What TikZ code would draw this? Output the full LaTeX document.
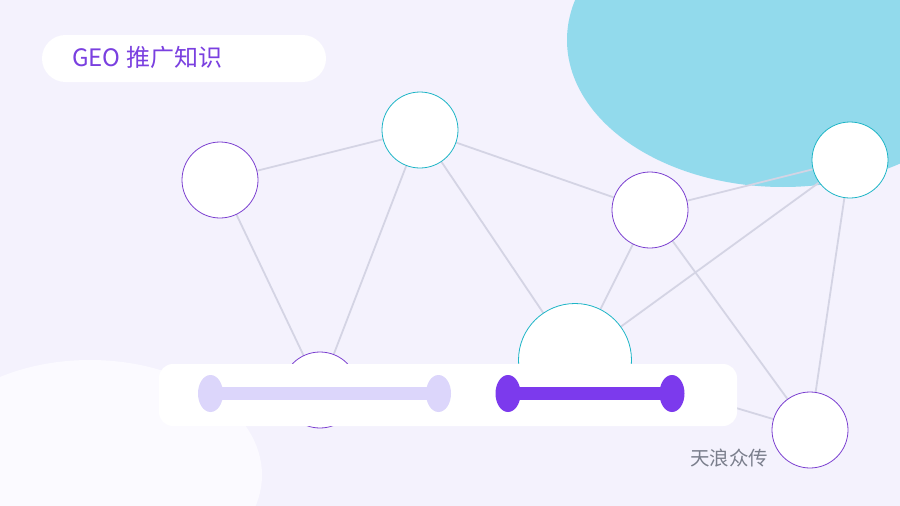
\documentclass[tikz,border=0pt]{standalone}
\usepackage{fontspec}
\newfontfamily\cjk{Noto Sans CJK SC}
\definecolor{bgc}{HTML}{F4F2FD}
\definecolor{blob}{HTML}{92DAEC}
\definecolor{blobw}{HTML}{FBFAFF}
\definecolor{edgec}{HTML}{D4D4E4}
\definecolor{purp}{HTML}{7B3FD0}
\definecolor{teal}{HTML}{1DB5C6}
\definecolor{titlec}{HTML}{7A40E0}
\definecolor{slidel}{HTML}{DCD6FB}
\definecolor{slided}{HTML}{7C3AED}
\definecolor{greyt}{HTML}{7A7E8C}
\pgfdeclarelayer{bg}
\pgfdeclarelayer{edges}
\pgfsetlayers{bg,edges,main}
\tikzset{
  pnode/.style={circle, draw=purp, fill=white, line width=0.8pt, minimum size=76pt, inner sep=0pt},
  tnode/.style={circle, draw=teal, fill=white, line width=0.8pt, minimum size=76pt, inner sep=0pt},
  edge/.style={draw=edgec, line width=1.8pt},
  knob/.style={ellipse, minimum width=25pt, minimum height=37pt, inner sep=0pt},
}
\usetikzlibrary{shapes.geometric}
\begin{document}
\begin{tikzpicture}[x=1pt,y=-1pt]
\useasboundingbox (0,0) rectangle (900,506);
\begin{pgfonlayer}{bg}
\clip (0,0) rectangle (900,506);
\fill[bgc] (0,0) rectangle (900,506);
\fill[blob] (783,40) ellipse [x radius=216pt, y radius=147pt];
\fill[blobw] (90,475) ellipse [x radius=172pt, y radius=115pt];
\end{pgfonlayer}
% nodes
\node[pnode] (n1) at (220,180) {};
\node[tnode] (n2) at (420,130) {};
\node[pnode] (n3) at (650,210) {};
\node[tnode] (n4) at (850,160) {};
\node[tnode, minimum size=113pt] (n5) at (575,360) {};
\node[pnode] (n6) at (320,390) {};
\node[pnode] (n7) at (810,430) {};
\begin{pgfonlayer}{edges}
\draw[edge] (n1.center) -- (n2.center);
\draw[edge] (n1.center) -- (n6.center);
\draw[edge] (n2.center) -- (n6.center);
\draw[edge] (n2.center) -- (n5.center);
\draw[edge] (n2.center) -- (n3.center);
\draw[edge] (n3.center) -- (n4.center);
\draw[edge] (n3.center) -- (n5.center);
\draw[edge] (n3.center) -- (n7.center);
\draw[edge] (n4.center) -- (n5.center);
\draw[edge] (n4.center) -- (n7.center);
\draw[edge] (n5.center) -- (n7.center);
\end{pgfonlayer}
% title
\node[fill=white, rounded corners=23.5pt, minimum width=284pt, minimum height=47pt, inner sep=0pt] (tbox) at (184,58.5) {};
\node[anchor=west, inner sep=0pt, text=titlec, font=\cjk\fontsize{24}{28}\selectfont] (title) at (72,57) {GEO 推广知识};
% bar
\node[fill=white, rounded corners=14pt, minimum width=578pt, minimum height=62pt, inner sep=0pt] (bar) at (448,395) {};
\node[knob, fill=slidel] (la) at (210.5,393.5) {};
\node[knob, fill=slidel] (lb) at (438.5,393.5) {};
\draw[slidel, line width=12.5pt] (la.center) -- (lb.center);
\node[knob, fill=slided] (da) at (508,393.5) {};
\node[knob, fill=slided] (db) at (672,393.5) {};
\draw[slided, line width=12.5pt] (da.center) -- (db.center);
\node[anchor=west, inner sep=0pt, text=greyt, font=\cjk\fontsize{19.5}{23}\selectfont] (brand) at (690,458) {天浪众传};
\end{tikzpicture}
\end{document}
